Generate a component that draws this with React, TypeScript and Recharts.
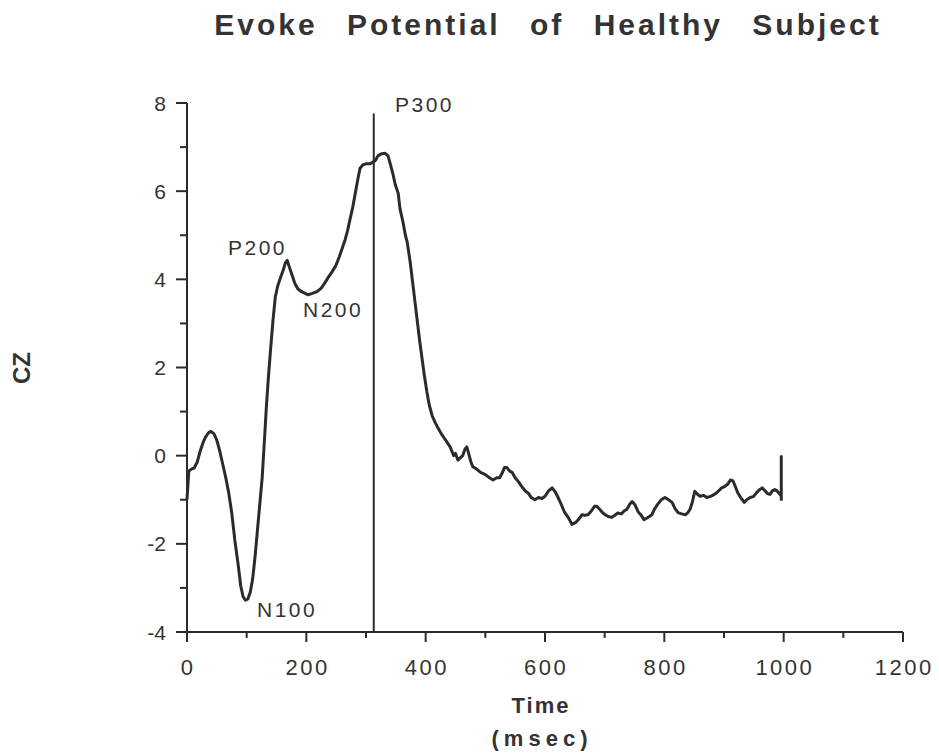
import React from "react";
import { LineChart, Line, XAxis, YAxis, ReferenceLine, ReferenceDot } from "recharts";

// ---- data ----
const timeMs: number[] = [
  0, 3, 8, 12, 17, 22, 27, 31, 36, 40, 45, 50, 55, 60, 65, 70, 75, 80, 86, 90, 94, 98, 102, 106, 110,
  114, 118, 122, 126, 130, 133, 136, 140, 144, 148, 152, 157, 161, 165, 168, 171, 176, 181, 186, 192,
  198, 203, 210, 218, 225, 231, 237, 243, 249, 255, 260, 265, 269, 273, 278, 282, 286, 290, 295, 300,
  306, 312, 316, 320, 326, 332, 337, 341, 345, 349, 354, 357, 362, 366, 369, 374, 378, 382, 386, 390,
  394, 398, 402, 406, 411, 416, 421, 426, 431, 436, 441, 444, 447, 450, 454, 458, 462, 466, 469, 472,
  476, 479, 485, 492, 500, 507, 513, 519, 524, 528, 532, 536, 541, 545, 550, 556, 561, 567, 572, 577,
  583, 589, 595, 600, 606, 612, 617, 622, 627, 633, 639, 645, 651, 656, 662, 667, 672, 678, 683, 687,
  692, 697, 701, 706, 712, 717, 722, 728, 733, 737, 742, 746, 751, 756, 761, 766, 770, 775, 779, 784,
  789, 795, 801, 807, 813, 818, 823, 829, 835, 839, 843, 847, 851, 856, 860, 866, 871, 876, 881, 886,
  891, 896, 901, 906, 911, 915, 919, 923, 928, 934, 938, 944, 949, 954, 959, 964, 969, 973, 977, 981,
  985, 989, 992, 995, 996, 996, 996,
];
const czValues: number[] = [
  -1.0, -0.35, -0.3, -0.28, -0.15, 0.1, 0.3, 0.42, 0.52, 0.55, 0.5, 0.35, 0.1, -0.2, -0.5, -0.85, -1.3,
  -1.9, -2.5, -2.95, -3.2, -3.28, -3.25, -3.1, -2.8, -2.3, -1.7, -1.1, -0.5, 0.4, 1.1, 1.7, 2.4, 3.05,
  3.6, 3.85, 4.05, 4.2, 4.38, 4.43, 4.3, 4.1, 3.9, 3.78, 3.72, 3.68, 3.65, 3.68, 3.72, 3.8, 3.92, 4.05,
  4.17, 4.3, 4.5, 4.7, 4.9, 5.1, 5.35, 5.65, 5.95, 6.25, 6.52, 6.6, 6.62, 6.62, 6.66, 6.7, 6.8, 6.85,
  6.86, 6.8, 6.6, 6.4, 6.15, 5.95, 5.6, 5.3, 5.0, 4.85, 4.4, 3.95, 3.5, 3.05, 2.6, 2.2, 1.8, 1.45,
  1.15, 0.9, 0.75, 0.62, 0.5, 0.4, 0.3, 0.2, 0.1, 0.0, 0.05, -0.1, -0.05, 0.0, 0.15, 0.2, 0.05, -0.15,
  -0.25, -0.3, -0.38, -0.43, -0.5, -0.55, -0.5, -0.5, -0.4, -0.27, -0.27, -0.35, -0.38, -0.5, -0.6,
  -0.7, -0.8, -0.85, -0.95, -1.0, -0.95, -0.97, -0.92, -0.8, -0.73, -0.82, -0.95, -1.1, -1.29, -1.4,
  -1.56, -1.52, -1.45, -1.34, -1.35, -1.34, -1.25, -1.15, -1.15, -1.22, -1.3, -1.34, -1.38, -1.4,
  -1.35, -1.3, -1.32, -1.25, -1.22, -1.1, -1.04, -1.12, -1.27, -1.35, -1.45, -1.42, -1.38, -1.34,
  -1.2, -1.1, -1.0, -0.95, -1.0, -1.06, -1.2, -1.29, -1.32, -1.34, -1.3, -1.22, -1.05, -0.81, -0.88,
  -0.92, -0.9, -0.95, -0.93, -0.9, -0.86, -0.8, -0.73, -0.7, -0.65, -0.55, -0.57, -0.7, -0.84, -0.95,
  -1.06, -1.0, -0.95, -0.93, -0.85, -0.78, -0.73, -0.8, -0.86, -0.88, -0.8, -0.77, -0.8, -0.85, -0.9,
  -0.85, -0.02, -1.02,
];

const xTicks: number[] = [0, 100, 200, 300, 400, 500, 600, 700, 800, 900, 1000, 1100, 1200];
const yTicks: number[] = [-4, -3, -2, -1, 0, 1, 2, 3, 4, 5, 6, 7, 8];

const markerTime = 313;
const markerTop = 7.76;

const peakLabels: string[] = ["P300", "P200", "N200", "N100"];
const peakLabelX: number[] = [348.6, 68.7, 194.4, 117.3];
const peakLabelY: number[] = [7.79, 4.56, 3.15, -3.66];

const chartTitle = "Evoke Potential of Healthy Subject";
const xTitle = "Time";
const xUnit = "(msec)";
const yTitle = "CZ";

const rows = timeMs.map((t, i) => ({ t, v: czValues[i] }));

const INK = "#2b2b2b";
const FONT = "'Liberation Sans', Arial, Helvetica, sans-serif";

const XTick = (props: any) => {
  const { x, y, payload } = props;
  const major = payload.value % 200 === 0;
  return (
    <g>
      <line x1={x} y1={y} x2={x} y2={y + (major ? 10 : 6)} stroke={INK} strokeWidth={2} />
      {major && (
        <text x={x} y={y + 43} dx={1.2} textAnchor="middle" fontSize={22} letterSpacing={2.5}
          fontFamily={FONT} fill="#333">
          {payload.value}
        </text>
      )}
    </g>
  );
};

const YTick = (props: any) => {
  const { x, y, payload } = props;
  const major = payload.value % 2 === 0;
  return (
    <g>
      <line x1={x} y1={y} x2={x - (major ? 11 : 7)} y2={y} stroke={INK} strokeWidth={2} />
      {major && (
        <text x={x - 21} y={y} dy="0.36em" textAnchor="end" fontSize={21} fontFamily={FONT} fill="#333">
          {payload.value}
        </text>
      )}
    </g>
  );
};

const makeLabelShape = (txt: string) => (p: any) => (
  <text x={p.cx} y={p.cy} textAnchor="start" fontSize={21} letterSpacing={2.5} fontFamily={FONT} fill="#333">
    {txt}
  </text>
);

export default function App() {
  return (
    <div style={{ position: "relative", width: 931, height: 747 }}>
      <LineChart width={931} height={747} data={rows}
        margin={{ top: 95, right: 36, bottom: 23, left: 79 }}>
        <XAxis dataKey="t" type="number" domain={[0, 1200]} ticks={xTicks} interval={0}
          tick={<XTick />} tickLine={false} tickSize={0} tickMargin={0} height={100}
          axisLine={{ stroke: INK, strokeWidth: 2 }} />
        <YAxis type="number" domain={[-4, 8]} ticks={yTicks} interval={0}
          tick={<YTick />} tickLine={false} tickSize={0} tickMargin={0} width={100}
          axisLine={{ stroke: INK, strokeWidth: 2 }} />
        <ReferenceLine segment={[{ x: markerTime, y: -4 }, { x: markerTime, y: markerTop }]}
          stroke={INK} strokeWidth={2} />
        <Line dataKey="v" type="linear" stroke={INK} strokeWidth={3} dot={false}
          isAnimationActive={false} strokeLinejoin="round" />
        {peakLabels.map((lab, i) => (
          <ReferenceDot key={lab} x={peakLabelX[i]} y={peakLabelY[i]} r={0}
            shape={makeLabelShape(lab)} />
        ))}
      </LineChart>
      <svg width={931} height={747} style={{ position: "absolute", left: 0, top: 0, pointerEvents: "none" }}>
        <text x={540} y={27} textAnchor="middle" fontSize={30} fontWeight="bold" letterSpacing={3}
          wordSpacing={18} fontFamily={FONT} fill="#333">
          {chartTitle}
        </text>
        <text x={533} y={705} textAnchor="middle" fontSize={22} fontWeight="bold" letterSpacing={2}
          fontFamily={FONT} fill="#333">
          {xTitle}
        </text>
        <text x={534} y={738} textAnchor="middle" fontSize={22} fontWeight="bold" letterSpacing={5}
          fontFamily={FONT} fill="#333">
          {xUnit}
        </text>
        <text x={22} y={360} textAnchor="middle" fontSize={24} fontWeight="bold"
          fontFamily={FONT} fill="#333" transform="rotate(-90, 22, 360)">
          {yTitle}
        </text>
      </svg>
    </div>
  );
}
